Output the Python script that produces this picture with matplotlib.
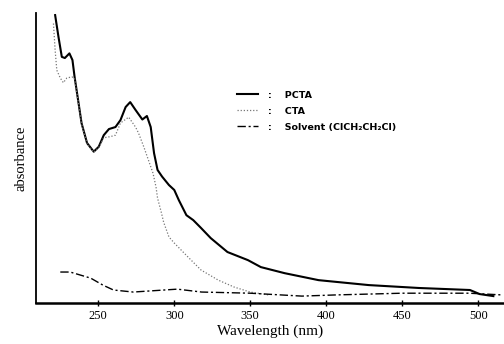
import matplotlib
matplotlib.use("Agg")
import matplotlib.pyplot as plt

# PCTA (solid)
pcta_wl = [221.6, 223.8, 226, 228, 231, 233, 234.4, 237, 239, 242.6, 247, 250.3, 253.6,
           257, 261.3, 264.6, 268, 271, 274.5, 279, 282, 284.5, 285.6, 286.7, 289, 292,
           296.5, 300, 303, 308, 312.5, 317.6, 324, 335, 348.5, 357, 372.7, 395, 428,
           461, 494.6, 501, 510]
pcta_abs = [0.993, 0.918, 0.849, 0.845, 0.861, 0.838, 0.780, 0.690, 0.620, 0.552, 0.522,
            0.539, 0.579, 0.600, 0.607, 0.631, 0.676, 0.693, 0.666, 0.633, 0.645, 0.607,
            0.562, 0.517, 0.459, 0.436, 0.407, 0.390, 0.355, 0.303, 0.286, 0.259, 0.224,
            0.176, 0.148, 0.124, 0.103, 0.079, 0.062, 0.052, 0.045, 0.031, 0.024]

# CTA (dotted)
cta_wl = [220.5, 221.6, 222.7, 225, 227, 229.3, 232.6, 234.4, 237, 239, 242.6, 247, 250.3,
          253.6, 258, 261.3, 264.6, 270, 274.5, 276.5, 280, 283, 286, 288, 289, 291.6,
          293, 296.5, 300, 309, 317.6, 329, 339.5, 350, 362]
cta_abs = [0.964, 0.872, 0.803, 0.776, 0.760, 0.776, 0.780, 0.775, 0.688, 0.618, 0.550,
           0.520, 0.536, 0.570, 0.574, 0.579, 0.621, 0.641, 0.607, 0.586, 0.538, 0.493,
           0.448, 0.400, 0.362, 0.310, 0.279, 0.228, 0.207, 0.159, 0.114, 0.079, 0.055,
           0.038, 0.028]

# Solvent (dash-dot)
solv_wl = [225, 231.5, 245, 253, 260, 273, 302, 318, 350, 384, 406, 450, 494, 516]
solv_abs = [0.107, 0.107, 0.086, 0.062, 0.045, 0.038, 0.048, 0.038, 0.034, 0.024, 0.028,
            0.034, 0.034, 0.028]

xticks = [250, 300, 350, 400, 450, 500]

fig = plt.figure(figsize=(5.04, 3.44), dpi=100)
ax = fig.add_axes([0.0714, 0.119, 0.9286, 0.843])

ax.plot(pcta_wl, pcta_abs, color="black", lw=1.5, label=":    PCTA")
ax.plot(cta_wl, cta_abs, color="#777777", lw=0.9, ls=(0, (1, 1.5)), label=":    CTA")
ax.plot(solv_wl, solv_abs, color="black", lw=1.0, ls=(0, (6, 2, 1.5, 2)),
        label=":    Solvent (ClCH\u2082CH\u2082Cl)")

ax.set_xlim(209, 517)
ax.set_ylim(0, 1)
ax.spines["top"].set_visible(False)
ax.spines["right"].set_visible(False)
ax.spines["left"].set_linewidth(1.3)
ax.spines["bottom"].set_linewidth(1.8)
ax.set_yticks([])
ax.set_xticks(xticks)
ax.tick_params(axis="x", direction="inout", length=4, width=1, labelsize=9, pad=3)
for lab in ax.get_xticklabels():
    lab.set_family("Liberation Serif")

ax.set_xlabel("Wavelength (nm)", family="Liberation Serif", fontsize=11, labelpad=2)
ax.set_ylabel("absorbance", family="Liberation Serif", fontsize=10.5, labelpad=6)

leg = ax.legend(loc="upper left", bbox_to_anchor=(228 / 504, 1 - 82 / 344),
                bbox_transform=fig.transFigure, frameon=False, handlelength=2.3,
                handletextpad=1.0, labelspacing=0.75,
                prop={"family": "DejaVu Sans", "weight": "bold", "size": 6.8})

fig.savefig("out.png", dpi=100)
